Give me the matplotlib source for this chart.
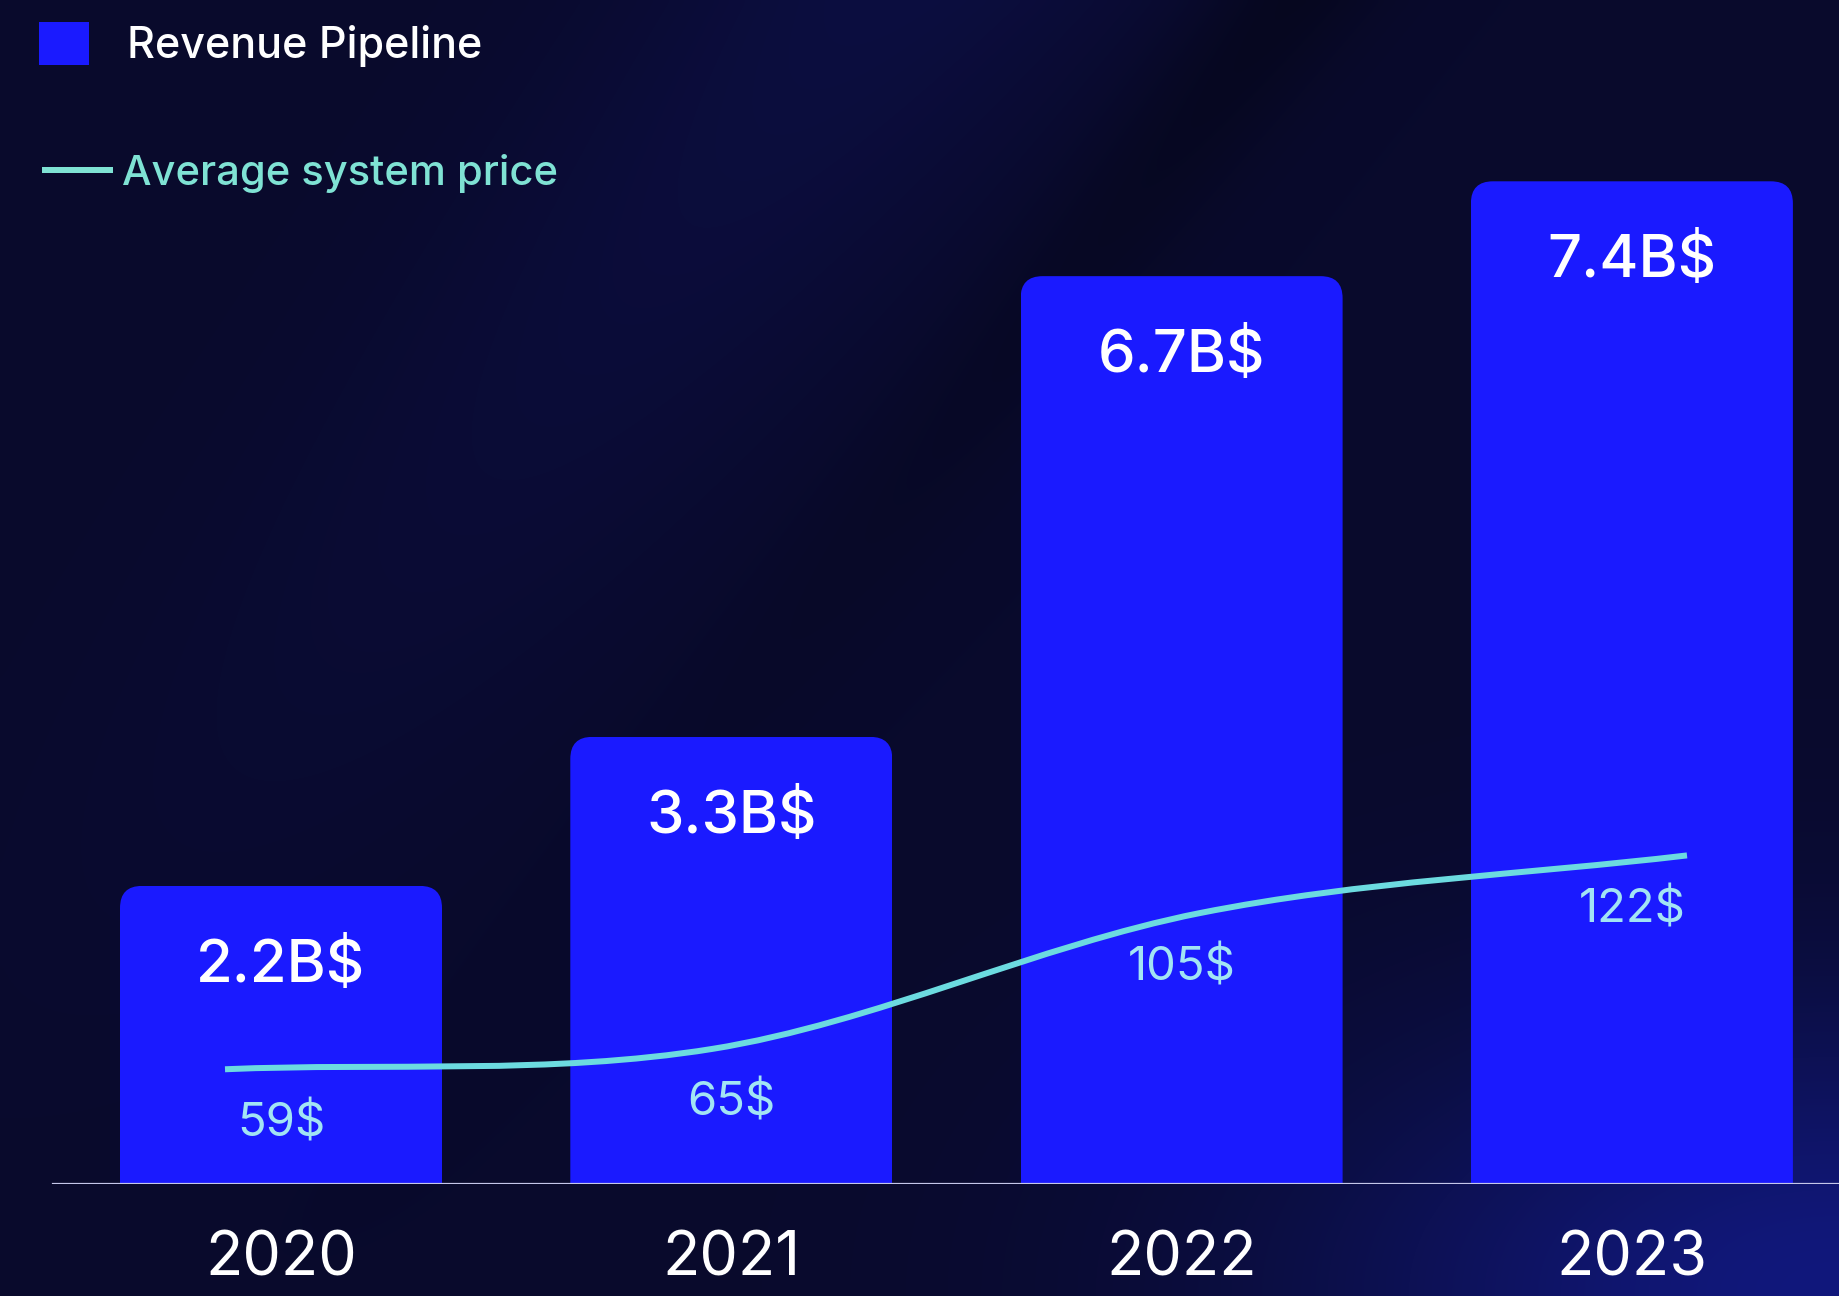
import matplotlib.pyplot as plt
import numpy as np
from matplotlib import transforms
from matplotlib.lines import Line2D
from matplotlib.patches import FancyBboxPatch, Patch, PathPatch
from matplotlib.path import Path

years = ["2020", "2021", "2022", "2023"]
revenue_bn = [2.2, 3.3, 6.7, 7.4]
revenue_labels = ["2.2B$", "3.3B$", "6.7B$", "7.4B$"]
avg_price = [59, 65, 105, 122]
price_labels = ["59$", "65$", "105$", "122$"]

BG = "#090a2c"
BAR = "#1a1aff"
LINE = "#6cdbe0"
LEGEND_TEAL = "#7fe2d4"
PRICE_TXT = "#a2e4f4"
AXIS = "#c5c7ea"

W, H, DPI = 1839, 1296, 100
BASE_PX = 112          # baseline height above the bottom edge
CAT_PX = 450.3         # spacing between bar centres
FIRST_PX = 281         # centre of the first bar
BN_PX = 135.5          # pixels per billion
PT = 72 / DPI          # pixels -> points


def smooth_path(xs, ys):
    """Cubic Bezier path through the points (Catmull-Rom tangents)."""
    xs = np.asarray(xs, float)
    ys = np.asarray(ys, float)
    n = len(xs)
    dy = np.empty(n)
    dy[0] = ys[1] - ys[0]
    dy[-1] = ys[-1] - ys[-2]
    dy[1:-1] = (ys[2:] - ys[:-2]) / 2
    verts = [(xs[0], ys[0])]
    codes = [Path.MOVETO]
    for i in range(n - 1):
        h = (xs[i + 1] - xs[i]) / 3
        verts += [(xs[i] + h, ys[i] + dy[i] / 3),
                  (xs[i + 1] - h, ys[i + 1] - dy[i + 1] / 3),
                  (xs[i + 1], ys[i + 1])]
        codes += [Path.CURVE4] * 3
    return Path(verts, codes)


plt.rcParams["font.family"] = ["Inter", "DejaVu Sans"]

fig = plt.figure(figsize=(W / DPI, H / DPI), dpi=DPI, facecolor=BG)

# dark navy backdrop with a faint diagonal sheen and a blue glow bottom-right
bg = fig.add_axes([0, 0, 1, 1], zorder=-10)
yy, xx = np.mgrid[0:1:260j, 0:1:370j]
u = xx + 0.55 * yy
img = np.ones((260, 370, 3)) * np.array([9, 10, 44]) / 255
sheen = np.exp(-((u - 0.48) / 0.14) ** 2) * (1 - yy) ** 1.5
shade = np.exp(-((u - 0.70) / 0.05) ** 2) * (1 - yy) ** 2
glow = np.exp(-(((xx - 1.0) / 0.28) ** 2 + ((yy - 1.0) / 0.22) ** 2))
img += sheen[..., None] * np.array([3, 4, 20]) / 255
img -= shade[..., None] * np.array([3, 3, 14]) / 255
img += glow[..., None] * np.array([8, 14, 80]) / 255
bg.imshow(np.clip(img, 0, 1), extent=[0, 1, 0, 1], aspect="auto",
          interpolation="bicubic")
bg.axis("off")

# bars
ax = fig.add_axes([0, BASE_PX / H, 1, 1 - BASE_PX / H])
ax.set_facecolor("none")
ax.set_xlim(-FIRST_PX / CAT_PX, (W - FIRST_PX) / CAT_PX)
ax.set_ylim(0, (H - BASE_PX) / BN_PX)
ax.axis("off")

x = np.arange(len(years))
bars = ax.bar(x, revenue_bn, width=322 / CAT_PX, color=BAR, zorder=2)

# round the top corners only: clip each bar with a rounded box that
# extends below the baseline
r_px = 22
rx, ry = r_px / CAT_PX, r_px / BN_PX
for b in bars:
    clip = FancyBboxPatch((b.get_x(), -1), b.get_width(), b.get_height() + 1,
                          boxstyle=f"round,pad=0,rounding_size={rx}",
                          mutation_aspect=ry / rx, transform=ax.transData)
    b.set_clip_path(clip)

for xi, v, lab in zip(x, revenue_bn, revenue_labels):
    ax.annotate(lab, (xi, v), xytext=(0, -80 * PT), textcoords="offset points",
                ha="center", va="center", color="white", fontsize=43,
                fontweight="medium", zorder=5)

for xi, yr in zip(x, years):
    ax.annotate(yr, (xi, 0), xytext=(0, -92 * PT), textcoords="offset points",
                ha="center", va="baseline", color="white", fontsize=44,
                annotation_clip=False)

ax.axhline(0, xmin=53 / W, xmax=1, color=AXIS, lw=1.6, zorder=3)

# average system price on its own overlaid axes
lax = fig.add_axes(ax.get_position())
lax.set_facecolor("none")
lax.axis("off")
line_px = (1687 - 225) / 3
lax.set_xlim(-225 / line_px, (W - 225) / line_px)
lax.set_ylim(25.2, 374.0)
lax.add_patch(PathPatch(smooth_path(x, avg_price), facecolor="none",
                        edgecolor=LINE, lw=6 * PT, capstyle="butt",
                        zorder=4))

trans = transforms.blended_transform_factory(ax.transData, lax.transData)
for xi, v, lab in zip(x, avg_price, price_labels):
    lax.annotate(lab, (xi, v), xycoords=trans, xytext=(0, -55 * PT),
                 textcoords="offset points", ha="center", va="center",
                 color=PRICE_TXT, fontsize=34)

# legend, one row per series
fig.legend([Patch(facecolor=BAR, edgecolor="none")], ["Revenue Pipeline"],
           loc="upper left", bbox_to_anchor=(39 / W, 1 - 22 / H),
           frameon=False, prop={"size": 31, "weight": "medium"},
           handlelength=1.17, handleheight=1.17, handletextpad=0.88,
           borderpad=0, borderaxespad=0, labelcolor="white")
fig.legend([Line2D([], [], color=LEGEND_TEAL, lw=6 * PT)],
           ["Average system price"],
           loc="upper left", bbox_to_anchor=(45 / W, 1 - 154 / H),
           frameon=False, prop={"size": 30, "weight": "medium"},
           handlelength=1.55, handletextpad=0.3, borderpad=0,
           borderaxespad=0, labelcolor=LEGEND_TEAL)

fig.savefig("out.png", dpi=DPI, facecolor=BG)
